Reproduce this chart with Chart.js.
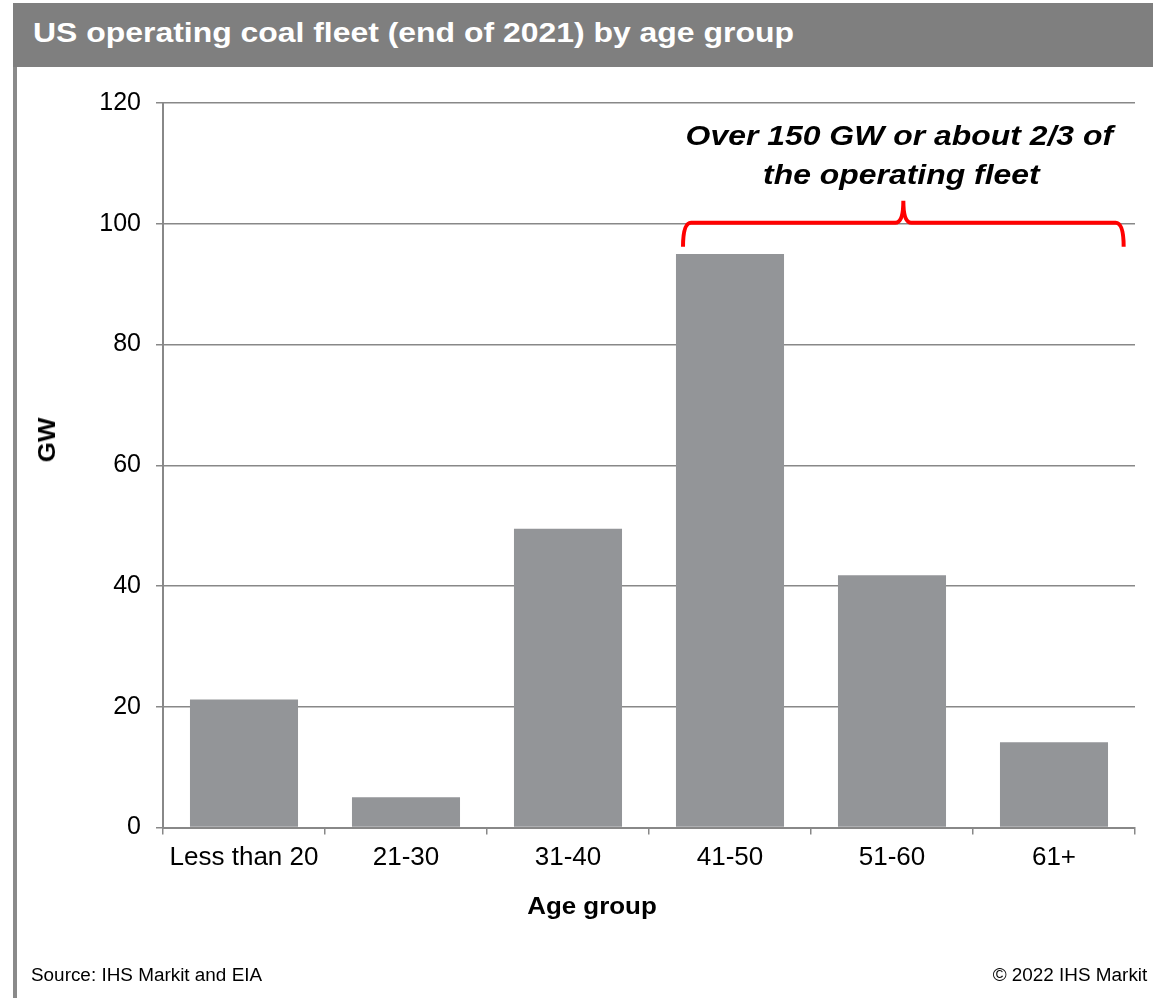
<!DOCTYPE html>
<html>
<head>
<meta charset="utf-8">
<script src="https://cdn.jsdelivr.net/npm/chart.js@4/dist/chart.umd.min.js"></script>
<style>
  body { margin: 0; width: 1153px; height: 998px; background: #fff; position: relative; overflow: hidden; font-family: "Liberation Sans", Arial, sans-serif; }
  .header { position: absolute; left: 13px; top: 3px; width: 1140px; height: 64px; background: #7f7f7f; }
  .header span { position: absolute; left: 20px; top: 14px; color: #fff; font-weight: bold; font-size: 28px; transform: scaleX(1.14); transform-origin: left center; white-space: nowrap; }
  .leftline { position: absolute; left: 13px; top: 67px; width: 4px; height: 931px; background: #8a8a8a; }
  .foot { position: absolute; top: 965px; font-size: 18px; color: #000; white-space: nowrap; transform: scaleX(1.05); }
  .axis-title { position: absolute; font-weight: bold; font-size: 24px; color: #000; white-space: nowrap; }
  #wrap { position: absolute; left: 0; top: 0; width: 1153px; height: 998px; }
</style>
</head>
<body>
<div class="header"><span>US operating coal fleet (end of 2021) by age group</span></div>
<div class="leftline"></div>
<div id="wrap"><canvas id="chart"></canvas></div>
<div class="axis-title" style="left:592px; top:906px; transform: translate(-50%, -50%) scaleX(1.08);">Age group</div>
<div class="axis-title" style="left:47px; top:440px; transform: translate(-50%, -50%) rotate(-90deg) scaleX(1.08);">GW</div>
<div class="foot" style="left:31px; transform-origin:left center">Source: IHS Markit and EIA</div>
<div class="foot" style="right:6px; transform-origin:right center">© 2022 IHS Markit</div>
<script>
const ageGroups = ["Less than 20", "21-30", "31-40", "41-50", "51-60", "61+"]
const capacityGW = [21.2, 5.0, 49.5, 95.0, 41.8, 14.1]
const yTicks = [0, 20, 40, 60, 80, 100, 120]
const noteLines = ["Over 150 GW or about 2/3 of", "the operating fleet"]

// red curly bracket + note over the older groups
const bracketPlugin = {
    id: "bracket",
    afterDatasetsDraw(chart){
        const ctx = chart.ctx
        const x = chart.scales.x
        const y = chart.scales.y
        const cat = x.getPixelForValue(1) - x.getPixelForValue(0)
        const left = x.getPixelForValue(3) - cat * 0.29
        const right = x.getPixelForValue(5) + cat * 0.43
        const mid = (left + right) / 2
        const top = y.getPixelForValue(100) - 1
        const r = 8
        ctx.save()
        ctx.strokeStyle = "#ff0000"
        ctx.lineWidth = 4
        ctx.beginPath()
        ctx.moveTo(left, top + 24)
        ctx.quadraticCurveTo(left, top, left + r, top)
        ctx.lineTo(mid - r, top)
        ctx.quadraticCurveTo(mid, top, mid, top - 22)
        ctx.quadraticCurveTo(mid, top, mid + r, top)
        ctx.lineTo(right - r, top)
        ctx.quadraticCurveTo(right, top, right, top + 24)
        ctx.stroke()
        ctx.fillStyle = "#000"
        ctx.font = "italic bold 28px 'Liberation Sans', Arial, sans-serif"
        ctx.textAlign = "center"
        ctx.textBaseline = "middle"
        // reference text is a little wider than the font
        ctx.translate(mid - 4, 0)
        ctx.scale(1.14, 1)
        ctx.fillText(noteLines[0], 0, 137)
        ctx.fillText(noteLines[1], 2 / 1.14, 176)
        ctx.restore()
    }
}

const ctx = document.getElementById("chart").getContext("2d")
new Chart(ctx, {
    type: "bar",
    data: {
        labels: ageGroups,
        datasets: [{
            data: capacityGW,
            backgroundColor: "#939598",
            barPercentage: 0.667,
            categoryPercentage: 1
        }]
    },
    options: {
        responsive: true,
        maintainAspectRatio: false,
        animation: false,
        layout: { padding: { left: 35, top: 103, right: 18, bottom: 70 } },
        plugins: { legend: { display: false }, tooltip: { enabled: false } },
        scales: {
            x: {
                grid: { drawOnChartArea: false, drawTicks: true, tickLength: 7, color: "#888888", lineWidth: 1.5 },
                border: { color: "#888888", width: 2 },
                ticks: { color: "#000", font: { size: 26, family: "'Liberation Sans', Arial" }, padding: 8 },
                afterFit(scale){ scale.height = 998 - 70 - 827.5 }
            },
            y: {
                min: 0,
                max: 120,
                afterBuildTicks(scale){ scale.ticks = yTicks.map(v => ({ value: v })) },
                grid: { color: "#888888", lineWidth: 1.5, tickLength: 7 },
                border: { color: "#888888", width: 2 },
                ticks: { color: "#000", font: { size: 25, family: "'Liberation Sans', Arial" }, padding: 15 },
                afterFit(scale){ scale.width = 163 - 35 }
            }
        }
    },
    plugins: [bracketPlugin]
})
</script>
</body>
</html>
